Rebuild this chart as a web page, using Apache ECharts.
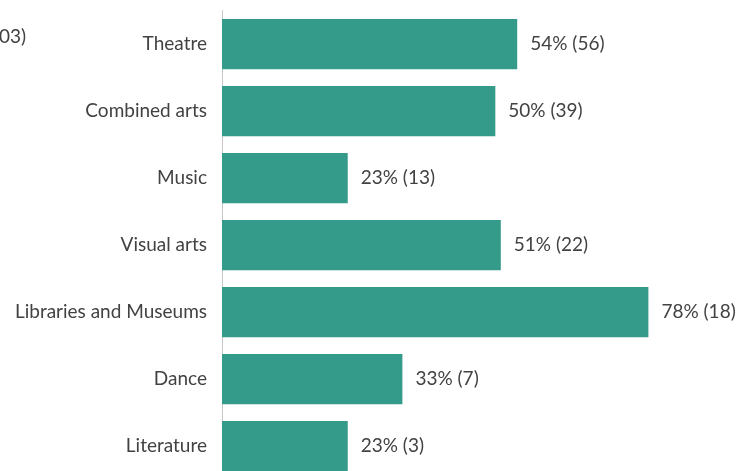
<!DOCTYPE html>
<html>
<head>
<meta charset="utf-8">
<script src="https://cdn.jsdelivr.net/npm/echarts@6/dist/echarts.min.js"></script>
<style>
  html, body { margin: 0; padding: 0; background: #ffffff; }
  #chart { width: 755px; height: 471px; }
</style>
</head>
<body>
<div id="chart"></div>
<script>
// Art forms, top to bottom
const categories = ['Theatre', 'Combined arts', 'Music', 'Visual arts', 'Libraries and Museums', 'Dance', 'Literature'];
// Share of organisations (%)
const percentages = [54, 50, 23, 51, 78, 33, 23];
// Number of organisations
const counts = [56, 39, 13, 22, 18, 7, 3];

const FONT = 'Lato, "Open Sans", sans-serif';
const TEXT = '#424242';

const chart = echarts.init(document.getElementById('chart'), null, { renderer: 'canvas' });

chart.setOption({
  animation: false,
  backgroundColor: '#ffffff',
  // the plot runs slightly past the bottom edge, so the last bar is cut off
  grid: { left: 222, top: 10.5, right: 0, bottom: -8.5, containLabel: false, outerBoundsMode: 'none' },
  xAxis: {
    type: 'value', min: 0, max: 97.5,
    show: false
  },
  yAxis: {
    type: 'category',
    data: categories,
    inverse: true,
    axisLine: { show: true, lineStyle: { color: '#c8c8c8', width: 1 } },
    axisTick: { show: false },
    axisLabel: { color: TEXT, fontFamily: FONT, fontSize: 19, margin: 15 }
  },
  graphic: [{
    type: 'text', left: -1, top: 27,
    style: { text: '03)', fill: TEXT, font: '19px ' + FONT }
  }],
  series: [{
    type: 'bar',
    data: percentages,
    barCategoryGap: '25%',
    itemStyle: { color: '#349b8b' },
    label: {
      show: true,
      position: 'right',
      distance: 13,
      color: TEXT,
      fontFamily: FONT,
      fontSize: 19,
      formatter: p => p.value + '% (' + counts[p.dataIndex] + ')'
    }
  }]
});
</script>
</body>
</html>
